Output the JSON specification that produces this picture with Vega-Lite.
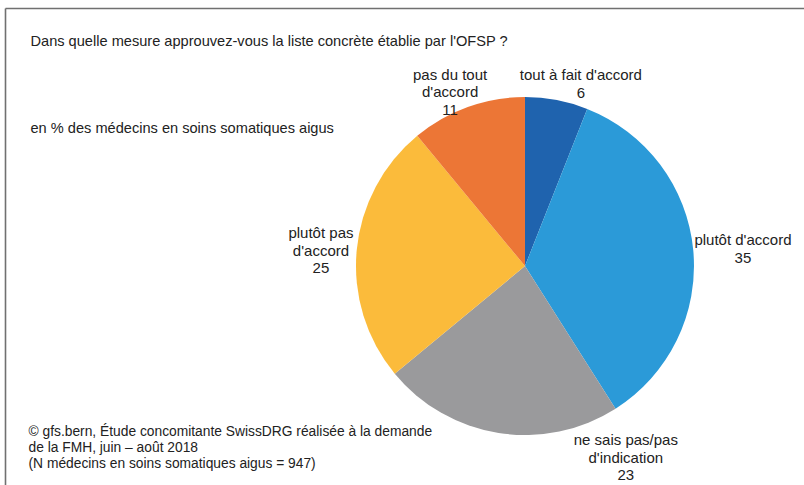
{
  "$schema": "https://vega.github.io/schema/vega-lite/v6.json",
  "width": 799,
  "height": 477,
  "autosize": "none",
  "padding": {"left": 5, "top": 8, "right": 0, "bottom": 0},
  "background": "white",
  "config": {
    "view": {"stroke": null},
    "font": "Liberation Sans",
    "text": {"font": "Liberation Sans"}
  },
  "data": {
    "values": [
      {"reponse": "tout à fait d'accord", "label": "tout à fait d'accord\n6", "pct": 6, "ordre": 1},
      {"reponse": "plutôt d'accord", "label": "plutôt d'accord\n35", "pct": 35, "ordre": 2},
      {"reponse": "ne sais pas/pas d'indication", "label": "ne sais pas/pas\nd'indication\n23", "pct": 23, "ordre": 3},
      {"reponse": "plutôt pas d'accord", "label": "plutôt pas\nd'accord\n25", "pct": 25, "ordre": 4},
      {"reponse": "pas du tout d'accord", "label": "pas du tout\nd'accord\n11", "pct": 11, "ordre": 5}
    ]
  },
  "encoding": {
    "theta": {"field": "pct", "type": "quantitative", "stack": true},
    "order": {"field": "ordre", "type": "quantitative"},
    "x": {
      "datum": 65.08,
      "type": "quantitative",
      "scale": {"domain": [0, 100], "nice": false, "zero": false},
      "axis": {
        "orient": "top",
        "domain": true,
        "domainColor": "#707070",
        "domainWidth": 1.6,
        "ticks": false,
        "labels": false,
        "grid": false,
        "title": ["Dans quelle mesure approuvez-vous la liste concrète établie par l'OFSP ?", "en % des médecins en soins somatiques aigus"],
        "titleX": 25,
        "titleY": 37.5,
        "titleAlign": "left",
        "titleAnchor": "start",
        "titleAngle": 0,
        "titleBaseline": "alphabetic",
        "titleFont": "Liberation Sans",
        "titleFontSize": 14.6,
        "titleFontWeight": "normal",
        "titleColor": "#222222",
        "titleLineHeight": 87
      }
    },
    "y": {
      "datum": 54.09,
      "type": "quantitative",
      "scale": {"domain": [0, 100], "nice": false, "zero": false, "reverse": true},
      "axis": {
        "orient": "left",
        "domain": true,
        "domainColor": "#707070",
        "domainWidth": 1.6,
        "ticks": false,
        "labels": false,
        "grid": false,
        "title": ["© gfs.bern, Étude concomitante SwissDRG réalisée à la demande", "de la FMH, juin – août 2018", "(N médecins en soins somatiques aigus = 947)"],
        "titleX": 23,
        "titleY": 427,
        "titleAlign": "left",
        "titleAnchor": "start",
        "titleAngle": 0,
        "titleBaseline": "alphabetic",
        "titleFont": "Liberation Sans",
        "titleFontSize": 13.8,
        "titleFontWeight": "normal",
        "titleColor": "#222222",
        "titleLineHeight": 16
      }
    }
  },
  "layer": [
    {
      "mark": {"type": "arc", "outerRadius": 169},
      "encoding": {
        "color": {
          "field": "reponse",
          "type": "nominal",
          "legend": null,
          "scale": {
            "domain": ["tout à fait d'accord", "plutôt d'accord", "ne sais pas/pas d'indication", "plutôt pas d'accord", "pas du tout d'accord"],
            "range": ["#1f63ae", "#2b9ad8", "#9a9a9c", "#fbbb3b", "#ec7636"]
          }
        }
      }
    },
    {
      "mark": {"type": "text", "radius": 199, "thetaOffset": 0.096, "align": "center", "baseline": "middle", "lineBreak": "\n", "fontSize": 15, "lineHeight": 17.5, "color": "#222222"},
      "encoding": {"text": {"condition": {"test": "datum.ordre === 1", "field": "label", "type": "nominal"}, "value": ""}}
    },
    {
      "mark": {"type": "text", "radius": 219.5, "thetaOffset": -0.024, "align": "center", "baseline": "middle", "lineBreak": "\n", "fontSize": 15, "lineHeight": 17.5, "color": "#222222"},
      "encoding": {"text": {"condition": {"test": "datum.ordre === 2", "field": "label", "type": "nominal"}, "value": ""}}
    },
    {
      "mark": {"type": "text", "radius": 201.2, "thetaOffset": -0.682, "align": "center", "baseline": "middle", "lineBreak": "\n", "fontSize": 15, "lineHeight": 17.5, "color": "#222222"},
      "encoding": {"text": {"condition": {"test": "datum.ordre === 3", "field": "label", "type": "nominal"}, "value": ""}}
    },
    {
      "mark": {"type": "text", "radius": 206.7, "thetaOffset": 0.066, "align": "center", "baseline": "middle", "lineBreak": "\n", "fontSize": 15, "lineHeight": 17.5, "color": "#222222"},
      "encoding": {"text": {"condition": {"test": "datum.ordre === 4", "field": "label", "type": "nominal"}, "value": ""}}
    },
    {
      "mark": {"type": "text", "radius": 205.2, "thetaOffset": -0.028, "align": "center", "baseline": "middle", "lineBreak": "\n", "fontSize": 15, "lineHeight": 17.5, "color": "#222222"},
      "encoding": {"text": {"condition": {"test": "datum.ordre === 5", "field": "label", "type": "nominal"}, "value": ""}}
    }
  ]
}
